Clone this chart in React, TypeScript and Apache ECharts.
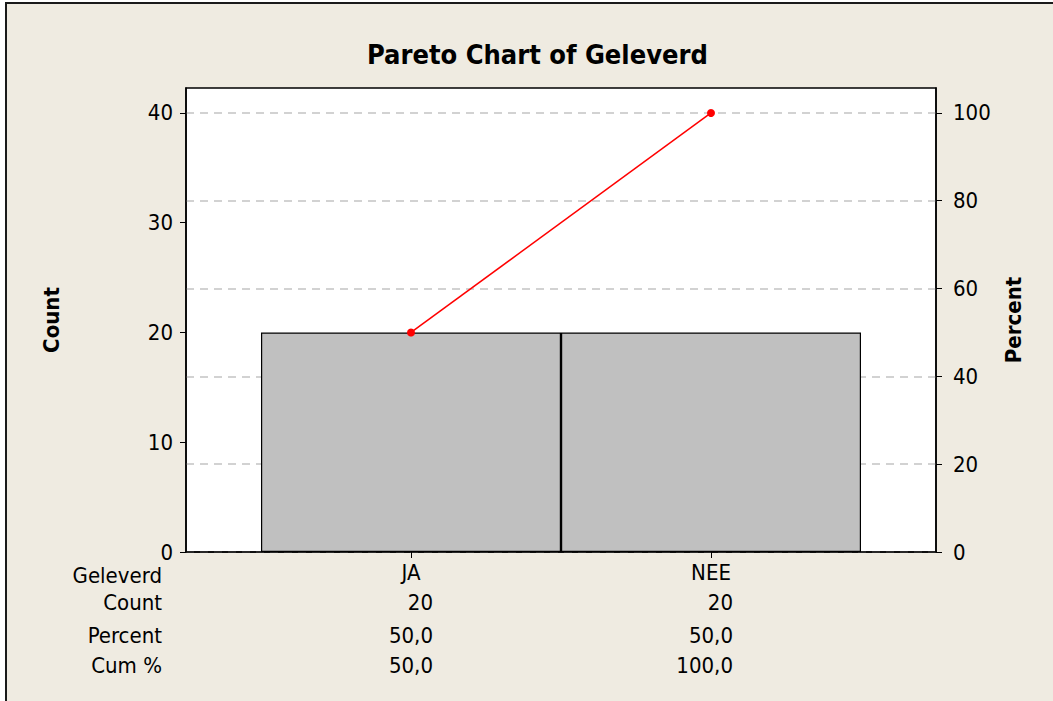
import React, { useEffect, useRef } from "react";
import * as echarts from "echarts";

const categories = ["JA", "NEE"];
const counts = [20, 20];
const percents = ["50,0", "50,0"];
const cumPercents = [50, 100];
const cumLabels = ["50,0", "100,0"];
const rowLabels = ["Geleverd", "Count", "Percent", "Cum %"];
const countTicks = [0, 10, 20, 30, 40];
const percentTicks = [0, 20, 40, 60, 80, 100];

const FONT = "'DejaVu Sans Condensed', 'DejaVu Sans', sans-serif";
const FS = 22;
const COUNT_MAX = 42.27;
const PCT_MAX = COUNT_MAX * 2.5;

export default function App() {
  const ref = useRef<HTMLDivElement>(null);
  useEffect(() => {
    document.body.style.margin = "0";
    const chart = echarts.init(ref.current!, null, { renderer: "svg" });
    const option: any = {
      animation: false,
      backgroundColor: "#ffffff",
      title: {
        text: "Pareto Chart of Geleverd",
        left: 362,
        top: 36,
        textStyle: { fontFamily: FONT, fontSize: 27, fontWeight: "bold", color: "#000" },
      },
      grid: {
        left: 186,
        top: 88,
        right: 117,
        bottom: 149,
        show: true,
        backgroundColor: "#ffffff",
        borderColor: "#000",
        borderWidth: 1.5,
      },
      xAxis: {
        type: "value",
        min: -0.75,
        max: 1.75,
        axisLine: { show: true, onZero: false, lineStyle: { color: "#000", width: 1.5 } },
        axisTick: { show: true, customValues: [0, 1], length: 6, lineStyle: { color: "#000" } },
        axisLabel: {
          customValues: [0, 1],
          formatter: (v: number) => categories[Math.round(v)] ?? "",
          fontFamily: FONT,
          fontSize: FS,
          color: "#000",
          margin: 9,
        },
        splitLine: { show: false },
      },
      yAxis: [
        {
          type: "value",
          min: 0,
          max: COUNT_MAX,
          name: "Count",
          nameLocation: "middle",
          nameRotate: 90,
          nameGap: 124,
          nameTextStyle: { fontFamily: FONT, fontSize: FS, fontWeight: "bold", color: "#000" },
          axisLine: { show: true, onZero: false, lineStyle: { color: "#000", width: 1.5 } },
          axisTick: { show: true, customValues: countTicks, length: 6, lineStyle: { color: "#000" } },
          axisLabel: { customValues: countTicks, fontFamily: FONT, fontSize: FS, color: "#000", margin: 13 },
          splitLine: { show: false },
        },
        {
          type: "value",
          min: 0,
          max: PCT_MAX,
          position: "right",
          name: "Percent",
          nameLocation: "middle",
          nameRotate: 90,
          nameGap: 66,
          nameTextStyle: { fontFamily: FONT, fontSize: FS, fontWeight: "bold", color: "#000" },
          axisLine: { show: true, onZero: false, lineStyle: { color: "#000", width: 1.5 } },
          axisTick: { show: true, customValues: percentTicks, length: 6, lineStyle: { color: "#000" } },
          axisLabel: { customValues: percentTicks, fontFamily: FONT, fontSize: FS, color: "#000", margin: 17 },
          splitLine: { show: true, lineStyle: { color: "#c4c4c4", type: [8, 6], width: 1.5 } },
        },
      ],
      series: [
        {
          type: "bar",
          data: counts.map((c, i) => [i, c]),
          barWidth: 300,
          itemStyle: { color: "#c0c0c0", borderColor: "#000", borderWidth: 1.2 },
          z: 3,
        },
        {
          type: "line",
          yAxisIndex: 1,
          data: cumPercents.map((c, i) => [i, c]),
          symbol: "circle",
          symbolSize: 8,
          lineStyle: { color: "#ff0000", width: 1.5 },
          itemStyle: { color: "#ff0000" },
          z: 4,
        },
      ],
    };
    chart.setOption(option);

    const rowY = [575, 602, 635, 665];
    const graphics: any[] = [
      {
        type: "rect",
        shape: { x: 6, y: 3, width: 1100, height: 800 },
        style: { fill: "#efebe1", stroke: "#1a1a1a", lineWidth: 2 },
        z: -10,
        silent: true,
      },
    ];
    rowLabels.forEach((t, r) => {
      graphics.push({
        type: "text",
        x: 162,
        y: rowY[r],
        style: { text: t, align: "right", verticalAlign: "middle", font: `${FS}px ${FONT}`, fill: "#000" },
      });
    });
    const rows = [counts.map(String), percents, cumLabels];
    categories.forEach((_, i) => {
      const px = chart.convertToPixel({ xAxisIndex: 0 }, i) as number;
      rows.forEach((vals, r) => {
        graphics.push({
          type: "text",
          x: px + 22,
          y: rowY[r + 1],
          style: { text: vals[i], align: "right", verticalAlign: "middle", font: `${FS}px ${FONT}`, fill: "#000" },
        });
      });
    });
    chart.setOption({ graphic: graphics });
    return () => chart.dispose();
  }, []);
  return <div ref={ref} style={{ width: 1053, height: 701 }} />;
}
